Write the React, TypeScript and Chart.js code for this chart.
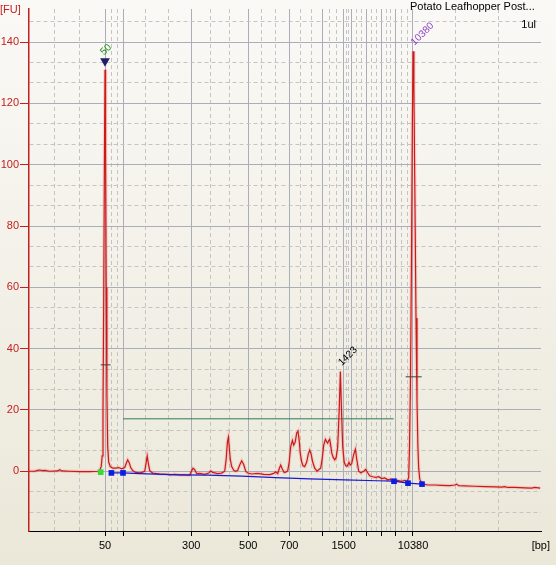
import React, { useEffect, useRef } from 'react';
import { Chart, registerables } from 'chart.js';

Chart.register(...registerables);

// ---- data ----
const sampleTitle = 'Potato Leafhopper Post...';
const sampleVolume = '1ul';
const yUnit = '[FU]';
const xUnit = '[bp]';

// ladder (bp) and their migration times (s)
const ladderBp = [50, 100, 300, 500, 700, 1000, 1500, 2000, 3000, 5000, 7000, 10380];
const ladderTime = [35.2, 38.84, 52.44, 63.84, 72.04, 78.8, 82.94, 84.48, 87.48, 90.48, 93.28, 96.8];
const ladderLabelled = [50, 300, 500, 700, 1500, 10380];
const timeMin = 20;
const timeMax = 122.4;
const fuMin = -19.5;
const fuMax = 150.8;
const fuMajorStep = 20;

// electropherogram trace
const traceTime = [
  20, 21.14, 21.74, 22.14, 22.74, 23.14, 24.14, 25.74, 26.14, 26.54,
  28.14, 30.14, 32.14, 33.74, 34.14, 34.44, 34.64, 34.8, 34.94, 35.08,
  35.2, 35.32, 35.44, 35.58, 35.74, 35.94, 36.24, 36.74, 37.34, 37.94,
  38.54, 39.14, 39.44, 39.74, 40.04, 40.34, 40.74, 41.34, 42.14, 42.74,
  43.14, 43.4, 43.64, 43.84, 44.14, 44.74, 46.14, 47.54, 48.14, 49.14,
  50.14, 51.14, 52.14, 52.54, 52.8, 53.14, 53.54, 54.14, 55.14, 55.94,
  56.34, 56.74, 57.74, 58.54, 59.14, 59.44, 59.68, 59.88, 60.04, 60.24,
  60.54, 60.94, 61.34, 61.74, 62.14, 62.54, 62.94, 63.34, 63.74, 64.54,
  65.74, 66.94, 68.14, 68.94, 69.34, 69.74, 70.04, 70.34, 70.64, 71.04,
  71.44, 71.74, 72.04, 72.34, 72.68, 72.94, 73.24, 73.54, 73.8, 74.04,
  74.24, 74.54, 74.8, 75.14, 75.54, 75.84, 76.14, 76.44, 76.74, 77.14,
  77.6, 77.94, 78.34, 78.64, 78.94, 79.28, 79.54, 79.74, 79.94, 80.14,
  80.34, 80.54, 80.84, 81.14, 81.44, 81.74, 82.04, 82.28, 82.5, 82.74,
  83.04, 83.34, 83.64, 84, 84.24, 84.54, 84.94, 85.28, 85.54, 85.94,
  86.34, 86.94, 87.34, 87.74, 88.14, 88.74, 89.34, 89.94, 90.54, 91.14,
  91.74, 92.34, 92.94, 93.74, 94.54, 95.14, 95.64, 95.94, 96.1, 96.3,
  96.5, 96.68, 96.82, 96.98, 97.18, 97.4, 97.6, 97.78, 97.94, 98.14,
  98.44, 98.94, 99.74, 101.14, 102.54, 104.14, 105.14, 105.54, 105.94, 107.14,
  109.14, 111.14, 113.14, 114.54, 115.14, 115.74, 117.14, 119.14, 120.54, 121.14,
  122.24,
];
const traceFU = [
  0, 0, 0.3, 0.4, 0.2, 0.3, 0, 0.1, 0.5, 0.1,
  0, -0.1, -0.1, 0, 0.3, 1.5, 5, 20, 55, 100,
  131, 105, 60, 25, 8, 3, 1.5, 1, 1, 1.2,
  0.8, 1.2, 2.5, 3.7, 2.8, 1.2, 0.2, -0.4, -0.5, -0.3,
  0, 2.5, 5.0, 2.8, 0.2, -0.6, -0.9, -1.0, -1.2, -1.0,
  -1.2, -1.2, -1.3, 0.2, 1.0, 0.5, -0.8, -0.7, -1.0, -0.6,
  0.1, -0.4, -0.8, -0.6, 0, 4, 9.5, 11.1, 8, 4,
  1.5, 0.3, 0, 0.3, 2.0, 3.4, 2.2, 0, -0.6, -0.9,
  -0.7, -1.0, -1.1, -0.7, -0.2, -0.8, 0.8, 2.0, 0.8, -0.4,
  -0.2, 0.1, 3, 8, 10, 8.5, 9.5, 12.5, 13.1, 10,
  6, 3, 1.8, 1.5, 3, 5.5, 6.9, 5.5, 3, 1,
  0, 0.5, 1, 4, 8.5, 10.4, 9.6, 9.2, 10, 10.4,
  8.5, 6, 4.5, 3.7, 4.5, 8, 20, 32.5, 20, 8,
  3, 1.8, 1.6, 2.9, 2.0, 2.5, 5.5, 7.2, 4, 0,
  -0.5, 0, 0.6, -0.5, -1.5, -1.8, -2.0, -1.8, -2.4, -2.2,
  -2.8, -2.6, -3.2, -3.0, -3.3, -3.0, -3.4, -2, 8, 30,
  70, 115, 137, 125, 90, 50, 23, 8, 1, -2.5,
  -3.6, -4.2, -4.5, -4.5, -4.6, -4.7, -4.5, -4.2, -4.7, -4.8,
  -4.9, -5.0, -5.1, -5.2, -5.0, -5.3, -5.3, -5.4, -5.5, -5.3,
  -5.5,
];

// baseline
const baselineTime = [36.48, 38.8, 42.14, 50.14, 55.74, 62.54, 69.34, 76.14, 83.14, 89.54, 93.0, 95.8, 98.6];
const baselineFU = [-0.55, -0.55, -0.8, -1.2, -1.3, -1.6, -2.1, -2.5, -2.8, -3.1, -3.26, -3.9, -4.2];
const baselineMarkTime = [36.48, 38.8, 93.0, 95.8, 98.6];
const baselineMarkFU = [-0.55, -0.55, -3.26, -3.9, -4.2];
const startMarkTime = [34.34];
const startMarkFU = [-0.3];

// region of interest
const regionTime = [38.8, 92.94];
const regionFU = [17.1, 17.1];

// half-height markers on ladder peaks
const halfLowerTime = [34.34, 36.34];
const halfLowerFU = [34.7, 34.7];
const halfUpperTime = [95.34, 98.54];
const halfUpperFU = [30.8, 30.8];

// lower marker triangle
const lowerMarkerTime = [35.2];
const lowerMarkerFU = [133.8];

// peak labels
const peakLabelText = ['50', '1423', '10380'];
const peakLabelTime = [35.2, 82.28, 96.82];
const peakLabelFU = [133.8, 32.5, 137];
const peakLabelColor = ['#1b8c1b', '#000000', '#9040c8'];

// ---- helpers ----
const pts = (xs: number[], ys: number[]) => xs.map((x, i) => ({ x, y: ys[i] }));

const xTickValues: number[] = (() => {
  const bounds = [timeMin, ...ladderTime, timeMax];
  const out: number[] = [];
  for (let i = 0; i < bounds.length - 1; i++) {
    const a = bounds[i];
    const b = bounds[i + 1];
    if (i > 0) out.push(a);
    out.push(a + (b - a) / 3, a + (2 * (b - a)) / 3);
  }
  return out;
})();

const yTickValues: number[] = (() => {
  const out: number[] = [];
  for (let k = -2; k <= 22; k++) out.push((k * fuMajorStep) / 3);
  return out;
})();

const isMajorX = (v: any) => typeof v === 'number' && ladderTime.some((t) => Math.abs(t - v) < 1e-6);
const isMajorY = (v: any) =>
  typeof v === 'number' && Math.abs(v / fuMajorStep - Math.round(v / fuMajorStep)) < 1e-6;

const RED = '#c41e1e';
const MAJOR_GRID = '#a9aeb9';
const MINOR_GRID = '#c4c4c4';
const FONT = '"Liberation Sans", Arial, sans-serif';

const annotationPlugin = {
  id: 'annotations',
  afterDraw(chart: any) {
    const { ctx, scales } = chart;
    const xs = scales.x;
    const ys = scales.y;
    ctx.save();
    ctx.font = `11px ${FONT}`;
    ctx.textBaseline = 'middle';
    ctx.fillStyle = RED;
    ctx.textAlign = 'left';
    ctx.fillText(yUnit, 0, 10);
    ctx.fillStyle = '#000';
    ctx.textAlign = 'right';
    ctx.fillText(xUnit, 550, 546);
    ctx.textAlign = 'left';
    ctx.fillText(sampleTitle, 410, 7);
    ctx.textAlign = 'right';
    ctx.fillText(sampleVolume, 536, 24.5);

    ctx.font = `10px ${FONT}`;
    ctx.textAlign = 'left';
    ctx.textBaseline = 'alphabetic';
    peakLabelText.forEach((txt, i) => {
      const px = xs.getPixelForValue(peakLabelTime[i]);
      const py = ys.getPixelForValue(peakLabelFU[i]);
      const dx = i === 0 ? -1 : 1.5;
      const dy = -5.5;
      ctx.save();
      ctx.translate(px + dx, py + dy);
      ctx.rotate(-Math.PI / 4);
      ctx.fillStyle = peakLabelColor[i];
      ctx.fillText(txt, 0, 0);
      ctx.restore();
    });
    ctx.restore();
  },
};

export default function App() {
  const ref = useRef<HTMLCanvasElement | null>(null);

  useEffect(() => {
    if (!ref.current) return;
    const chart = new Chart(ref.current, {
      type: 'line',
      data: {
        datasets: [
          {
            label: 'lower marker',
            data: pts(lowerMarkerTime, lowerMarkerFU),
            showLine: false,
            pointStyle: 'triangle',
            pointRotation: 180,
            pointRadius: 5.6,
            pointBackgroundColor: '#1f1f66',
            pointBorderWidth: 0,
            order: 0,
          },
          {
            label: 'baseline marks',
            data: pts(baselineMarkTime, baselineMarkFU),
            showLine: false,
            pointStyle: 'rect',
            pointRadius: 4,
            pointBackgroundColor: '#0b1de0',
            pointBorderWidth: 0,
            order: 0,
          },
          {
            label: 'start mark',
            data: pts(startMarkTime, startMarkFU),
            showLine: false,
            pointStyle: 'rect',
            pointRadius: 4,
            pointBackgroundColor: '#33dd33',
            pointBorderWidth: 0,
            order: 0,
          },
          {
            label: 'baseline',
            data: pts(baselineTime, baselineFU),
            borderColor: '#1a1ad0',
            borderWidth: 1.2,
            pointRadius: 0,
            tension: 0,
            order: 1,
          },
          {
            label: 'half lower',
            data: pts(halfLowerTime, halfLowerFU),
            borderColor: '#404040',
            borderWidth: 1,
            pointRadius: 0,
            order: 1,
          },
          {
            label: 'half upper',
            data: pts(halfUpperTime, halfUpperFU),
            borderColor: '#404040',
            borderWidth: 1,
            pointRadius: 0,
            order: 1,
          },
          {
            label: 'trace',
            data: pts(traceTime, traceFU),
            borderColor: '#cc1818',
            borderWidth: 1.2,
            pointRadius: 0,
            tension: 0,
            order: 2,
          },
          {
            label: 'trace glow',
            data: pts(traceTime, traceFU),
            borderColor: 'rgba(240,120,120,0.25)',
            borderWidth: 3.5,
            pointRadius: 0,
            tension: 0,
            order: 3,
          },
          {
            label: 'region',
            data: pts(regionTime, regionFU),
            borderColor: '#2e7d5b',
            borderWidth: 1,
            pointRadius: 0,
            order: 4,
          },
        ],
      },
      options: {
        animation: false,
        responsive: false,
        events: [],
        layout: { padding: { left: 0, right: 15, top: 9, bottom: 0 } },
        plugins: {
          legend: { display: false },
          tooltip: { enabled: false },
          title: { display: false },
        },
        scales: {
          x: {
            type: 'linear',
            min: timeMin,
            max: timeMax,
            afterBuildTicks: (s: any) => {
              s.ticks = xTickValues.map((v) => ({ value: v }));
            },
            afterFit: (s: any) => {
              s.height = 34;
              s.paddingLeft = 0;
              s.paddingRight = 0;
            },
            ticks: {
              autoSkip: false,
              maxRotation: 0,
              minRotation: 0,
              padding: 3,
              color: '#000',
              font: { family: FONT, size: 11 },
              callback: (v: any) => {
                const idx = ladderTime.findIndex((t) => Math.abs(t - v) < 1e-6);
                if (idx < 0) return '';
                return ladderLabelled.includes(ladderBp[idx]) ? String(ladderBp[idx]) : '';
              },
            },
            grid: {
              color: (c: any) => (c.tick && isMajorX(c.tick.value) ? MAJOR_GRID : MINOR_GRID),
              lineWidth: 1,
              tickLength: 5,
              tickWidth: 1,
              tickColor: (c: any) => (c.tick && isMajorX(c.tick.value) ? '#000' : 'rgba(0,0,0,0)'),
              tickBorderDash: [],
            },
            border: {
              color: '#000',
              width: 1,
              dash: (c: any) => (c.tick && !isMajorX(c.tick.value) ? [4, 3] : []),
            },
          },
          y: {
            type: 'linear',
            min: fuMin,
            max: fuMax,
            afterBuildTicks: (s: any) => {
              s.ticks = yTickValues.map((v) => ({ value: v }));
            },
            afterFit: (s: any) => {
              s.width = 29;
              s.paddingTop = 0;
              s.paddingBottom = 0;
            },
            ticks: {
              autoSkip: false,
              padding: 1,
              color: RED,
              font: { family: FONT, size: 11 },
              callback: (v: any) => (isMajorY(v) ? String(Math.round(v)) : ''),
            },
            grid: {
              color: (c: any) => (c.tick && isMajorY(c.tick.value) ? MAJOR_GRID : MINOR_GRID),
              lineWidth: 1,
              tickLength: 9,
              tickWidth: 1,
              tickColor: (c: any) => (c.tick && isMajorY(c.tick.value) ? RED : 'rgba(0,0,0,0)'),
              tickBorderDash: [],
            },
            border: {
              color: RED,
              width: 1.5,
              dash: (c: any) => (c.tick && !isMajorY(c.tick.value) ? [4, 3] : []),
            },
          },
        },
      } as any,
      plugins: [annotationPlugin],
    });
    return () => chart.destroy();
  }, []);

  return (
    <div
      style={{
        position: 'absolute',
        left: 0,
        top: 0,
        width: 556,
        height: 565,
        background: 'linear-gradient(#faf9f6, #ebe8d9)',
      }}
    >
      <canvas ref={ref} width={556} height={565} style={{ display: 'block' }} />
    </div>
  );
}
